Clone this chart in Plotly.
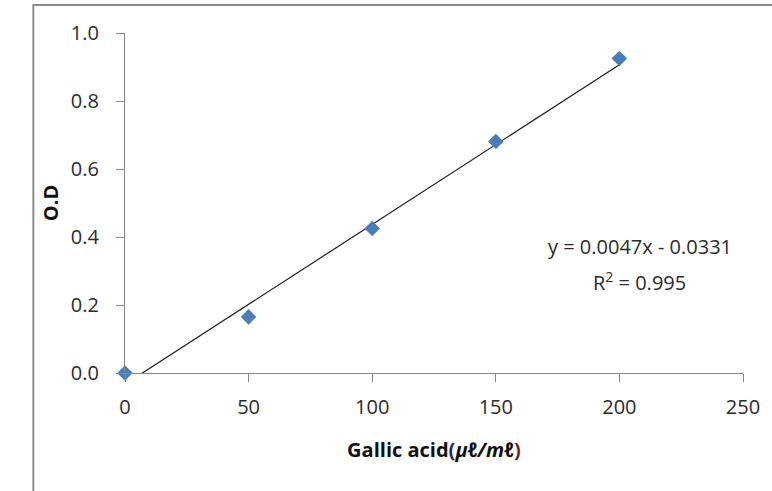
import plotly.graph_objects as go

# Data
concentration = [0, 50, 100, 150, 200]
od_values = [0.0, 0.165, 0.425, 0.681, 0.925]

# Linear trendline coefficients (as shown on the chart)
slope = 0.0047
intercept = -0.0331
r_squared = 0.995

x_ticks = [0, 50, 100, 150, 200, 250]
y_ticks = [0.0, 0.2, 0.4, 0.6, 0.8, 1.0]

trend_x = [concentration[0], concentration[-1]]
trend_y = [slope * v + intercept for v in trend_x]

FONT = "Open Sans"
TXT = "#2b2b2b"

fig = go.Figure()

fig.add_trace(go.Scatter(
    x=trend_x, y=trend_y, mode="lines",
    line=dict(color="#1a1a1a", width=1.2),
    hoverinfo="skip", showlegend=False,
))

fig.add_trace(go.Scatter(
    x=concentration, y=od_values, mode="markers",
    marker=dict(symbol="diamond", size=12, color="#4a7ebb",
                line=dict(width=0)),
    cliponaxis=False, showlegend=False,
))

fig.add_annotation(
    x=208.3, y=0.373, xref="x", yref="y",
    text=f"y = {slope}x - {abs(intercept)}",
    showarrow=False, font=dict(family=FONT, size=20, color=TXT),
)
fig.add_annotation(
    x=208.3, y=0.27, xref="x", yref="y",
    text=f"R<sup>2</sup> = {r_squared}",
    showarrow=False, font=dict(family=FONT, size=20, color=TXT),
)

# outer chart border (only top and left visible in the picture)
fig.add_shape(type="rect", xref="paper", yref="paper",
              x0=-0.1483, x1=1.5, y0=-1.0, y1=1.0822,
              line=dict(color="#8c8c8c", width=2), fillcolor="rgba(0,0,0,0)",
              layer="below")

fig.update_layout(
    width=772, height=491,
    margin=dict(l=125, r=29, t=33, b=118, autoexpand=False),
    paper_bgcolor="white", plot_bgcolor="white",
    font=dict(family=FONT, size=20, color=TXT),
    xaxis=dict(
        range=[0, 250], tickvals=x_ticks, ticktext=[str(v) for v in x_ticks],
        showgrid=False, zeroline=False,
        showline=True, linecolor="#868686", linewidth=1.3,
        ticks="outside", ticklen=8, tickcolor="#868686", tickwidth=1.3,
        ticklabelstandoff=8,
        tickfont=dict(family=FONT, size=20, color=TXT),
        title=dict(
            text="<b>Gallic acid</b><b><span style='color:#1f2a66'>(</span>"
                 "<i>μℓ/mℓ</i><span style='color:#7a1f1f'>)</span></b>",
            font=dict(family=FONT, size=20, color="#111111"), standoff=23,
        ),
    ),
    yaxis=dict(
        range=[0, 1.0], tickvals=y_ticks, ticktext=[f"{v:.1f}" for v in y_ticks],
        showgrid=False, zeroline=False,
        showline=True, linecolor="#868686", linewidth=1.3,
        ticks="outside", ticklen=8, tickcolor="#868686", tickwidth=1.3,
        ticklabelstandoff=13,
        tickfont=dict(family=FONT, size=20, color=TXT),
        title=dict(text="<b>O.D</b>", font=dict(family=FONT, size=20, color="#111111"),
                   standoff=6),
    ),
)

fig.write_html("out.html")
